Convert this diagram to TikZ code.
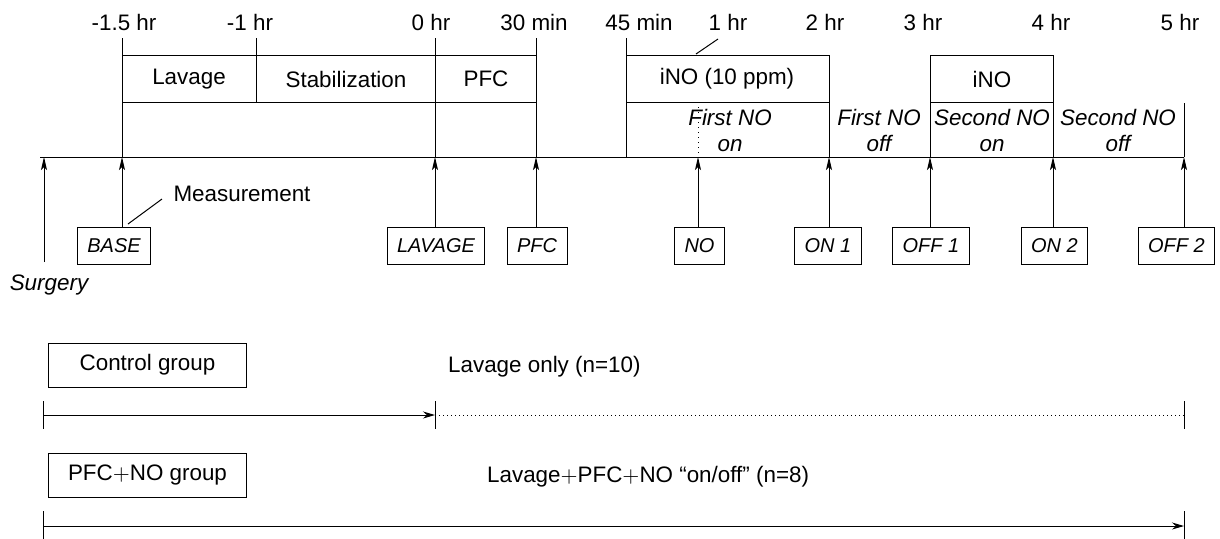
\documentclass[tikz,border=0pt]{standalone}
\usepackage{fontspec}
\setmainfont{Liberation Sans}
\usepackage{tikz}
\usetikzlibrary{arrows.meta}

\tikzset{
  mbox/.style={draw, font=\itshape, minimum height=18.5pt, inner xsep=5pt, inner ysep=0pt},
  gbox/.style={draw, anchor=west, minimum width=99pt, minimum height=22pt},
  phase/.style={font=\itshape\fontsize{11.2}{13}\selectfont, align=center},
  up/.style={-{Stealth[length=6.5pt,width=3pt,inset=1.5pt]}},
  run/.style={-{Stealth[length=6pt,width=3.5pt]}},
}

\begin{document}
\begin{tikzpicture}[x=0.5pt,y=-0.5pt,font=\fontsize{11.2}{13}\selectfont,line width=0.5pt]
\useasboundingbox (0,0) rectangle (1220,538);

% time axis
\coordinate(ax0) at (40,157);
\coordinate(ax1) at (1184,157);
\draw (ax0) -- (ax1);

\foreach \x/\t [count=\i] in {124/-1.5 hr,250/-1 hr,431/0 hr,534/30 min,639/45 min,728/1 hr,825/2 hr,923/3 hr,1051/4 hr,1180/5 hr}
	\node(h\i) at (\x,22) {\t};

% points on the axis
\coordinate(tS) at (44,157);
\coordinate(tB) at (122,157);
\coordinate(tL) at (435,157);
\coordinate(tP) at (536,157);
\coordinate(tI) at (626,157);
\coordinate(tN) at (698,157);
\coordinate(tA) at (829,157);
\coordinate(tC) at (930,157);
\coordinate(tD) at (1053,157);
\coordinate(tE) at (1184,157);

% phases
\foreach \t in {tB,tL,tP,tI}
	\draw (\t |- 0,38) -- (\t);
\draw (256,38) -- (256,102);
\foreach \t in {tA,tC,tD}
	\draw (\t |- 0,55) -- (\t);
\draw (tE |- 0,103) -- (tE);
\draw (122,55) -- (536,55);
\draw (122,102) -- (536,102);
\draw (626,55) -- (829,55);
\draw (626,102) -- (829,102);
\draw (930,55) -- (1053,55);
\draw (930,102) -- (1053,102);
\draw[dotted] (tN |- 0,102) -- (tN);

\node(lav) at (189,79) {Lavage};
\node(stab) at (346,79) {Stabilization};
\node(pfc) at (486,79) {PFC};
\node(ino1) at (727,79) {iNO (10 ppm)};
\node(ino2) at (992,79) {iNO};

\node[phase](on1) at (730,130) {First NO\\on};
\node[phase](off1) at (879,130) {First NO\\off};
\node[phase](on2) at (992,130) {Second NO\\on};
\node[phase](off2) at (1118,130) {Second NO\\off};

\coordinate(k1) at (718,39);
\coordinate(k2) at (696,54);
\draw (k1) -- (k2);

% measurements
\node(base) [mbox] at (114,245.5) {BASE};
\node(lavm) [mbox] at (436,245.5) {LAVAGE};
\node(pfcm) [mbox] at (537,245.5) {PFC};
\node(nom) [mbox] at (699.5,245.5) {NO};
\node(on1m) [mbox] at (828,245.5) {ON 1};
\node(off1m) [mbox] at (931,245.5) {OFF 1};
\node(on2m) [mbox] at (1054.5,245.5) {ON 2};
\node(off2m) [mbox] at (1176.5,245.5) {OFF 2};

\foreach \b/\t in {base/tB,lavm/tL,pfcm/tP,nom/tN,on1m/tA,off1m/tC,on2m/tD,off2m/tE}
	\draw[up] (\b.north -| \t) -- (\t);

\node(surg) at (49,285) {\itshape Surgery};
\coordinate(s0) at (44,262);
\draw[up] (s0) -- (tS);

\node(meas) at (242,194) {Measurement};
\coordinate(m1) at (162,199);
\coordinate(m2) at (128,224);
\draw (m1) -- (m2);

% groups
\node(ctrl) [gbox] at (48,365) {Control group};
\node(ctrlt) [anchor=west] at (441,367) {Lavage only (n=10)};
\node(pfng) [gbox] at (48,475) {PFC$+$NO group};
\node(pfnt) [anchor=west] at (480,477) {Lavage$+$PFC$+$NO “on/off” (n=8)};

\coordinate(c0) at (43,415);
\coordinate(c1) at (435,415);
\coordinate(c2) at (1184,415);
\draw[run] (c0) -- (c1);
\draw[dash pattern=on 0.5pt off 1.5pt] (c1) -- (c2);
\foreach \c in {c0,c1,c2}
	\draw ([yshift=7pt]\c) -- ([yshift=-7pt]\c);

\coordinate(p0) at (43,526);
\coordinate(p1) at (1184,526);
\draw[run] (p0) -- (p1);
\foreach \c in {p0,p1}
	\draw ([yshift=7.5pt]\c) -- ([yshift=-8pt]\c);

\end{tikzpicture}
\end{document}
